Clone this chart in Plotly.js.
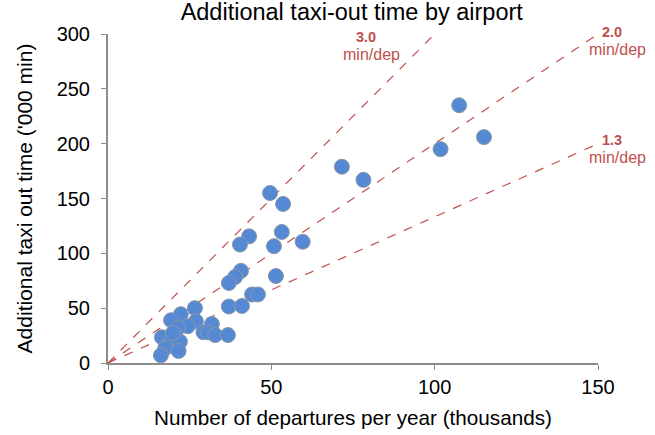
<!DOCTYPE html>
<html>
<head>
<meta charset="utf-8">
<script src="https://cdn.plot.ly/plotly-3.0.1.min.js"></script>
<style>html,body{margin:0;padding:0;background:#fff;}#chart{width:655px;height:435px;}</style>
</head>
<body>
<div id="chart"></div>
<script>
// Departures per year (thousands)
const departures = [107.5, 115.1, 101.8, 71.6, 78.2, 49.6, 53.6, 53.2, 59.6, 50.8, 43.2, 40.4,
  40.7, 38.9, 37.0, 51.4, 44.1, 45.9, 37.0, 41.0, 26.6, 22.3, 19.3, 26.9, 24.4, 21.4,
  31.8, 29.2, 30.7, 32.8, 36.7, 16.5, 19.2, 22.0, 17.5, 21.6, 16.2, 19.9];
// Additional taxi-out time ('000 min)
const taxiOut = [235, 206, 195, 179, 167, 155, 145, 119.5, 110.5, 106.5, 115.5, 108,
  84, 78.4, 73, 79.3, 62.5, 62.5, 51.5, 52, 50, 44.5, 39, 38, 33.5, 32,
  35.5, 28, 28, 25.5, 25.5, 23.5, 20, 19.5, 13.5, 11, 7, 27.4];
// Reference lines (min/dep) and their end x-values
const refSlopes = [3.0, 2.0, 1.333];
const refLabels = ["3.0", "2.0", "1.3"];
const refEndX = [100, 150, 150];

const red = '#C0504D';
const FONT = 'Liberation Sans, Arial, sans-serif';
const traces = [];
refSlopes.forEach((s, i) => {
  traces.push({
    x: [0, refEndX[i]], y: [0, s * refEndX[i]],
    mode: 'lines', type: 'scatter', hoverinfo: 'skip', showlegend: false,
    line: {color: red, width: 1.2, dash: 'dash'}
  });
});
traces.push({
  x: departures, y: taxiOut, mode: 'markers', type: 'scatter', showlegend: false,
  marker: {size: 15, color: '#5689D4', line: {color: '#8a96a8', width: 1}}
});

// label anchor positions in paper coordinates
const labelPos = [
  {x: 0.526, y: 0.991},
  {x: 1.028, y: 1.006},
  {x: 1.028, y: 0.679}
];
const annotations = [];
refLabels.forEach((t, i) => {
  annotations.push({
    x: labelPos[i].x, y: labelPos[i].y, xref: 'paper', yref: 'paper',
    text: '<b>' + t + '</b>', showarrow: false, xanchor: 'center', yanchor: 'middle',
    font: {family: FONT, size: 14.5, color: red}
  });
  annotations.push({
    x: labelPos[i].x + 0.012, y: labelPos[i].y - 0.053, xref: 'paper', yref: 'paper',
    text: 'min/dep', showarrow: false, xanchor: 'center', yanchor: 'middle',
    font: {family: FONT, size: 16, color: red}
  });
});

const layout = {
  width: 655, height: 435,
  margin: {l: 108, r: 57, t: 34, b: 72},
  paper_bgcolor: '#fff', plot_bgcolor: '#fff',
  font: {family: FONT, color: '#000', size: 20},
  title: {text: 'Additional taxi-out time by airport', x: 0.537, xanchor: 'center', y: 0.992, yanchor: 'top',
    font: {size: 23.5, color: '#000'}},
  xaxis: {
    range: [0, 150], tickvals: [0, 50, 100, 150], showgrid: false, zeroline: false,
    showline: true, linecolor: '#8c8c8c', linewidth: 2, ticks: 'outside', ticklen: 5, tickcolor: '#8c8c8c',
    tickfont: {size: 20}, title: {text: 'Number of departures per year (thousands)', font: {size: 20.7}, standoff: 14}
  },
  yaxis: {
    range: [0, 300], tickvals: [0, 50, 100, 150, 200, 250, 300], showgrid: false, zeroline: false,
    showline: true, linecolor: '#8c8c8c', linewidth: 2, ticks: 'outside', ticklen: 5, tickcolor: '#8c8c8c',
    ticklabelstandoff: 7,
    tickfont: {size: 20}, title: {text: "Additional taxi out time ('000 min)", font: {size: 21}, standoff: 18}
  },
  annotations: annotations
};
Plotly.newPlot('chart', traces, layout, {displayModeBar: false, staticPlot: true});
</script>
</body>
</html>
